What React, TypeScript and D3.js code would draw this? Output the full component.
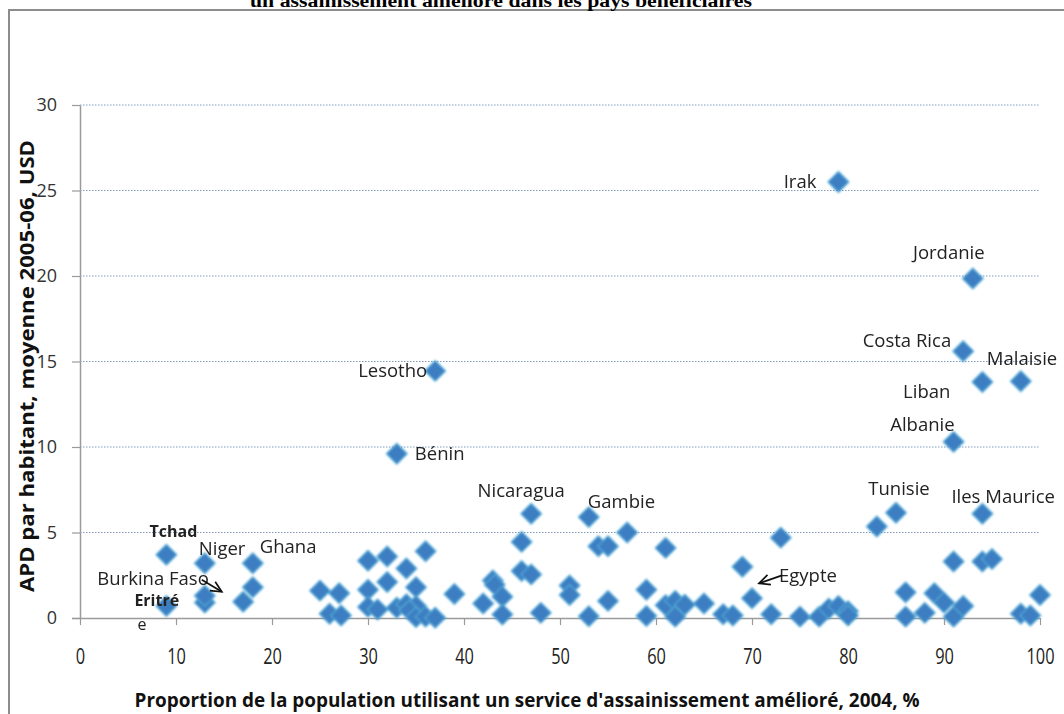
import React, { useEffect, useRef } from 'react';
import * as d3 from 'd3';

// Axis ticks
const xTicks = [0, 10, 20, 30, 40, 50, 60, 70, 80, 90, 100];
const yTicks = [0, 5, 10, 15, 20, 25, 30];

// Named countries (sanitation %, aid per capita USD)
const namedCountries = ['Tchad', 'Eritrée', 'Niger', 'Burkina Faso', 'Ghana', 'Bénin', 'Lesotho', 'Nicaragua', 'Gambie', 'Egypte', 'Irak', 'Tunisie', 'Albanie', 'Costa Rica', 'Jordanie', 'Liban', 'Iles Maurice', 'Malaisie'];
const namedSanitation = [9, 9, 13, 13, 18, 33, 37, 47, 53, 70, 79, 85, 91, 92, 93, 94, 94, 98];
const namedAid = [3.7, 0.7, 3.2, 1.3, 3.2, 9.6, 14.45, 6.1, 5.9, 1.15, 25.5, 6.15, 10.3, 15.6, 19.85, 13.8, 6.1, 13.85];

// Other beneficiary countries
const otherSanitation = [13, 17, 18, 25, 27, 26, 27.2, 30, 32, 34, 36, 30, 32, 35, 30, 31, 33, 34, 35, 34.3, 35, 36, 37, 39, 42, 43, 43.2, 44, 44, 46, 46, 47, 48, 51, 51, 53, 54, 55, 55, 57, 59, 59, 61, 61, 62, 62, 63, 65, 67, 68, 69, 72, 73, 75, 77, 78, 79, 80, 80, 83, 86, 86, 88, 89, 90, 91, 91, 92, 94, 95, 98, 99, 100];
const otherAid = [0.9, 0.95, 1.8, 1.6, 1.45, 0.25, 0.15, 3.35, 3.6, 2.9, 3.9, 1.65, 2.1, 1.8, 0.65, 0.5, 0.6, 0.8, 0.7, 0.45, 0.05, 0.08, 0.02, 1.4, 0.85, 2.2, 1.95, 1.25, 0.2, 4.45, 2.75, 2.55, 0.3, 1.9, 1.35, 0.1, 4.2, 4.2, 1.0, 5.0, 1.65, 0.12, 4.1, 0.75, 1.0, 0.08, 0.78, 0.85, 0.22, 0.15, 3.0, 0.22, 4.7, 0.08, 0.08, 0.55, 0.7, 0.4, 0.15, 5.35, 1.5, 0.08, 0.3, 1.45, 0.9, 3.3, 0.08, 0.7, 3.3, 3.45, 0.25, 0.15, 1.35];

// where each name sits relative to its marker (px)
const labelPlacement: Record<string, { dx: number; dy: number; anchor: string; bold?: boolean }> = {
  'Tchad': { dx: 7, dy: -23, anchor: 'middle', bold: true },
  'Eritrée': { dx: -32, dy: -6, anchor: 'start', bold: true },
  'Niger': { dx: -6, dy: -15, anchor: 'start' },
  'Burkina Faso': { dx: 4, dy: -17, anchor: 'end' },
  'Ghana': { dx: 7, dy: -17, anchor: 'start' },
  'Bénin': { dx: 18, dy: 0, anchor: 'start' },
  'Lesotho': { dx: -8, dy: 0, anchor: 'end' },
  'Nicaragua': { dx: -10, dy: -23, anchor: 'middle' },
  'Gambie': { dx: -1, dy: -16, anchor: 'start' },
  'Egypte': { dx: 27, dy: -23, anchor: 'start' },
  'Irak': { dx: -22, dy: 0, anchor: 'end' },
  'Tunisie': { dx: 3, dy: -24, anchor: 'middle' },
  'Albanie': { dx: 1, dy: -17, anchor: 'end' },
  'Costa Rica': { dx: -12, dy: -11, anchor: 'end' },
  'Jordanie': { dx: -24, dy: -26, anchor: 'middle' },
  'Liban': { dx: -32, dy: 10, anchor: 'end' },
  'Iles Maurice': { dx: -31, dy: -17, anchor: 'start' },
  'Malaisie': { dx: -34, dy: -23, anchor: 'start' },
};

const App: React.FC = () => {
  const chartRef = useRef<SVGSVGElement | null>(null);

  useEffect(() => {
    const width = 1064;
    const height = 714;
    const svg = d3.select(chartRef.current);
    svg.selectAll('*').remove();
    svg.attr('width', width).attr('height', height);

    const labelFont = '"Open Sans", sans-serif';

    svg.append('rect').attr('width', width).attr('height', height).attr('fill', '#fff');

    // chart frame (runs off the right and bottom edges)
    svg.append('rect')
      .attr('x', 9).attr('y', 10)
      .attr('width', 1070).attr('height', 720)
      .attr('fill', 'none')
      .attr('stroke', '#8c8c8c')
      .attr('stroke-width', 2);

    // title, cut by the top edge like in the source
    svg.append('text')
      .attr('x', 501).attr('y', 6.5)
      .attr('text-anchor', 'middle')
      .attr('textLength', 502)
      .attr('lengthAdjust', 'spacingAndGlyphs')
      .style('font-family', '"Liberation Serif", serif')
      .style('font-weight', 'bold')
      .style('font-size', '19px')
      .text('un assainissement amélioré dans les pays bénéficiaires');

    const x = d3.scaleLinear().domain([0, 100]).range([80, 1040]);
    const y = d3.scaleLinear().domain([0, 30]).range([618, 105]);

    // gridlines
    svg.append('g')
      .selectAll('line')
      .data(yTicks.filter(d => d > 0))
      .enter().append('line')
      .attr('x1', x(0)).attr('x2', x(100))
      .attr('y1', d => y(d)).attr('y2', d => y(d))
      .attr('stroke', '#7f9cc0')
      .attr('stroke-width', 1)
      .attr('stroke-dasharray', '1.5,1.5');

    // axes
    const xAxis = svg.append('g')
      .attr('transform', `translate(0,${y(0)})`)
      .call(d3.axisBottom(x).tickValues(xTicks).tickSize(7).tickSizeOuter(0).tickFormat(d3.format('d')));
    xAxis.select('.domain').attr('stroke', '#9a9a9a').attr('stroke-width', 1.5)
      .attr('d', `M${x(0) - 8},0.5H${x(100)}`);
    xAxis.selectAll('.tick line').attr('stroke', '#9a9a9a').attr('stroke-width', 1.2);
    xAxis.selectAll('.tick text')
      .attr('y', 0)
      .attr('dy', 0)
      .attr('transform', 'translate(0,46) scale(0.78,1)')
      .attr('fill', '#222')
      .style('font-family', labelFont)
      .style('font-size', '21px');

    const yAxis = svg.append('g')
      .attr('transform', `translate(${x(0)},0)`)
      .call(d3.axisLeft(y).tickValues(yTicks).tickSize(8).tickSizeOuter(0));
    yAxis.select('.domain').attr('stroke', '#9a9a9a').attr('stroke-width', 1.5);
    yAxis.selectAll('.tick line').attr('stroke', '#9a9a9a').attr('stroke-width', 1.2);
    yAxis.selectAll('.tick text')
      .attr('x', -23)
      .attr('fill', '#333')
      .style('font-family', labelFont)
      .style('font-size', '18px');

    // axis titles
    svg.append('text')
      .attr('x', 527).attr('y', 707)
      .attr('text-anchor', 'middle')
      .attr('textLength', 785)
      .attr('lengthAdjust', 'spacingAndGlyphs')
      .style('font-family', labelFont)
      .style('font-weight', 'bold')
      .style('font-size', '20px')
      .attr('fill', '#111')
      .text("Proportion de la population  utilisant un service d'assainissement amélioré, 2004,  %");

    svg.append('text')
      .attr('transform', 'translate(34,366) rotate(-90)')
      .attr('text-anchor', 'middle')
      .attr('textLength', 452)
      .attr('lengthAdjust', 'spacingAndGlyphs')
      .style('font-family', labelFont)
      .style('font-weight', 'bold')
      .style('font-size', '20px')
      .attr('fill', '#111')
      .text('APD par habitant, moyenne 2005-06,  USD');

    // soft edge like the office marker
    const defs = svg.append('defs');
    defs.append('filter').attr('id', 'soft')
      .attr('x', '-30%').attr('y', '-30%').attr('width', '160%').attr('height', '160%')
      .append('feGaussianBlur').attr('stdDeviation', 0.9);

    const points = [
      ...otherSanitation.map((s, i) => ({ s, a: otherAid[i] })),
      ...namedSanitation.map((s, i) => ({ s, a: namedAid[i] })),
    ];

    const diamond = d3.symbol().type(d3.symbolSquare).size(215);
    svg.append('g')
      .attr('filter', 'url(#soft)')
      .selectAll('path')
      .data(points)
      .enter().append('path')
      .attr('d', diamond() as string)
      .attr('transform', d => `translate(${x(d.s)},${y(d.a)}) rotate(45)`)
      .attr('fill', '#3d7ec2')
      .attr('stroke', '#52aad6')
      .attr('stroke-width', 1.2);

    // country names
    const labels = svg.append('g');
    namedCountries.forEach((name, i) => {
      const p = labelPlacement[name];
      const px = x(namedSanitation[i]) + p.dx;
      const py = y(namedAid[i]) + p.dy;
      const t = labels.append('text')
        .attr('x', px).attr('y', py)
        .attr('dy', '0.35em')
        .attr('text-anchor', p.anchor)
        .attr('fill', '#222')
        .style('font-family', labelFont)
        .style('font-weight', p.bold ? 'bold' : 'normal')
        .style('font-size', p.bold ? '16px' : '18.5px');
      if (name === 'Eritrée') {
        t.append('tspan').text('Eritré');
        t.append('tspan').attr('x', px + 3).attr('dy', '1.55em').style('font-weight', 'normal').text('e');
      } else {
        t.text(name);
      }
    });

    // arrows for Burkina Faso and Egypte
    const arrow = (name: string, tail: [number, number], tip: [number, number]) => {
      const i = namedCountries.indexOf(name);
      const cx = x(namedSanitation[i]);
      const cy = y(namedAid[i]);
      const x1 = cx + tail[0], y1 = cy + tail[1];
      const x2 = cx + tip[0], y2 = cy + tip[1];
      const ang = Math.atan2(y2 - y1, x2 - x1);
      const head = 12;
      const g = svg.append('g').attr('stroke', '#111').attr('stroke-width', 1.7).attr('fill', 'none');
      g.append('line').attr('x1', x1).attr('y1', y1).attr('x2', x2).attr('y2', y2);
      g.append('path').attr('d',
        `M${x2 - head * Math.cos(ang - 0.45)},${y2 - head * Math.sin(ang - 0.45)}L${x2},${y2}L${x2 - head * Math.cos(ang + 0.45)},${y2 - head * Math.sin(ang + 0.45)}`);
    };
    arrow('Burkina Faso', [-3, -16], [17, -4]);
    arrow('Egypte', [30, -23], [7, -15]);
  }, []);

  return <svg ref={chartRef} style={{ position: 'absolute', left: 0, top: 0, display: 'block' }}></svg>;
};

export default App;
